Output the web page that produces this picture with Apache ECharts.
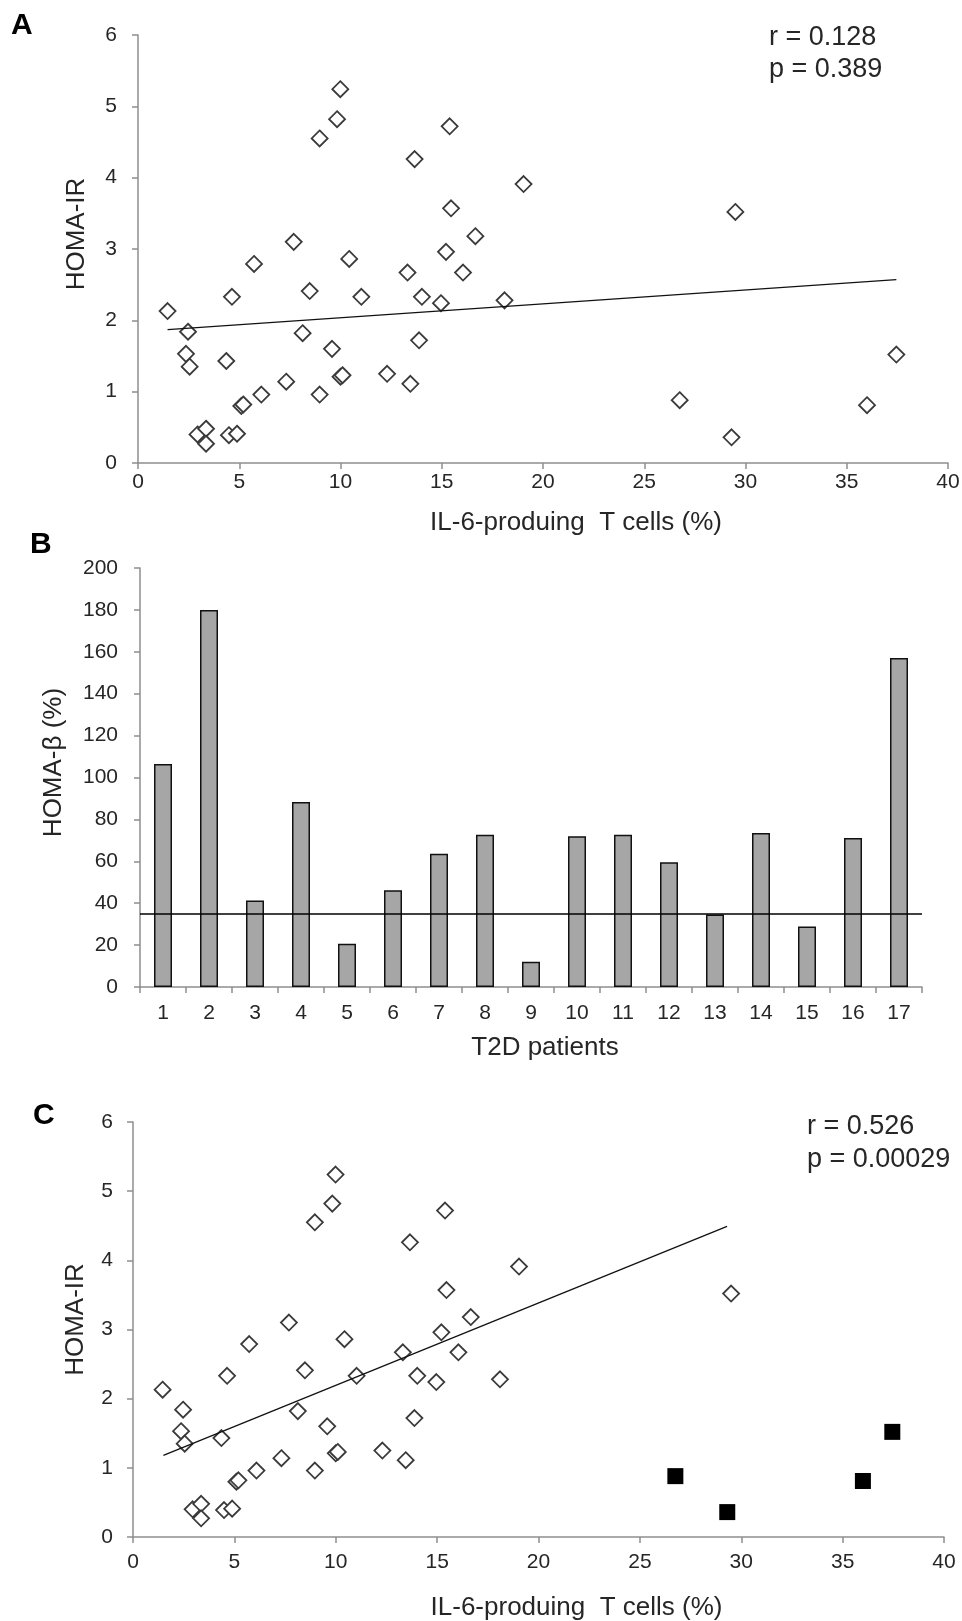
<!DOCTYPE html>
<html>
<head>
<meta charset="utf-8">
<title>HOMA-IR / HOMA-β vs IL-6-producing T cells</title>
<script src="https://cdn.jsdelivr.net/npm/echarts@6/dist/echarts.min.js"></script>
<style>
	html, body { margin: 0; padding: 0; background: #fff; }
	#chart { width: 962px; height: 1621px; }
</style>
</head>
<body>
<div id="chart"></div>
<script>
// patients kept in the correlation of panel C: [IL-6+ T cells %, HOMA-IR]
const il6Included = [
	[1.46, 2.13], [2.47, 1.84], [2.37, 1.53], [2.55, 1.35], [2.94, 0.40],
	[3.36, 0.48], [3.36, 0.27], [4.49, 0.39], [4.89, 0.41], [4.36, 1.43],
	[4.64, 2.33], [5.10, 0.80], [5.20, 0.82], [6.09, 0.96], [5.73, 2.79],
	[7.32, 1.14], [7.69, 3.10], [8.13, 1.82], [8.48, 2.41], [8.97, 0.96],
	[8.97, 4.55], [9.58, 1.60], [9.83, 4.82], [9.99, 5.24], [10.00, 1.21],
	[10.10, 1.23], [10.43, 2.86], [11.03, 2.33], [12.30, 1.25], [13.31, 2.67],
	[13.45, 1.11], [13.66, 4.26], [14.02, 2.33], [13.88, 1.72], [14.96, 2.24],
	[15.21, 2.96], [15.39, 4.72], [15.46, 3.57], [16.05, 2.67], [16.66, 3.18],
	[19.04, 3.91], [18.10, 2.28], [29.50, 3.52]
];
// patients shown as filled squares in panel C
const il6Excluded = [[26.75, 0.88], [29.31, 0.36], [36.00, 0.81], [37.45, 1.52]];

// trend line end points
const trendA = [[1.46, 1.87], [37.45, 2.57]];
const trendC = [[1.50, 1.18], [29.30, 4.49]];

// panel B
const patients = ['1', '2', '3', '4', '5', '6', '7', '8', '9', '10', '11', '12', '13', '14', '15', '16', '17'];
const homaBeta = [106.5, 180, 41.3, 88.3, 20.6, 46.2, 63.6, 72.7, 12.1, 72, 72.7, 59.6, 34.6, 73.5, 28.9, 71.1, 157];
const betaCutoff = 35;

const statsA = ['r = 0.128', 'p = 0.389'];
const statsC = ['r = 0.526', 'p = 0.00029'];

const font = '"Liberation Sans", Arial, sans-serif';
const textColor = '#262626';
const axisGray = '#8e8e8e';

const tickLabel = (margin) => ({ color: textColor, fontSize: 21, fontFamily: font, margin: margin });
const axisName = (padding) => ({ color: textColor, fontSize: 26, fontFamily: font, padding: padding });
const line = { show: true, lineStyle: { color: axisGray, width: 1.5 } };
const tick = { show: true, length: 6, lineStyle: { color: axisGray, width: 1.5 } };

const valueX = (gridIndex, margin, nameGap, padding) => ({
	type: 'value',
	gridIndex: gridIndex,
	min: 0,
	max: 40,
	interval: 5,
	name: 'IL-6-produing  T cells (%)',
	nameLocation: 'middle',
	nameGap: nameGap,
	nameTextStyle: axisName(padding),
	axisLine: line,
	axisTick: tick,
	axisLabel: tickLabel(margin),
	splitLine: { show: false }
});

const homaY = (gridIndex, margin, nameGap, padding) => ({
	type: 'value',
	gridIndex: gridIndex,
	min: 0,
	max: 6,
	interval: 1,
	name: 'HOMA-IR',
	nameLocation: 'middle',
	nameGap: nameGap,
	nameTextStyle: axisName(padding),
	axisLine: line,
	axisTick: tick,
	axisLabel: tickLabel(margin),
	splitLine: { show: false }
});

const diamond = {
	color: '#fff',
	borderColor: '#3a3a3a',
	borderWidth: 1.8,
	opacity: 1
};

const statText = (lines, x, y) => lines.map((t, i) => ({
	type: 'text',
	x: x,
	y: y + i * 32.5,
	style: { text: t, fill: textColor, font: '27px ' + font, verticalAlign: 'middle' }
}));

const panelLetter = (t, x, y) => ({
	type: 'text',
	x: x,
	y: y,
	style: { text: t, fill: '#000', font: 'bold 30px ' + font, verticalAlign: 'middle' }
});

const chart = echarts.init(document.getElementById('chart'), null, { renderer: 'canvas' });

chart.setOption({
	animation: false,
	backgroundColor: '#fff',
	// fixed plot boxes, no automatic shrinking for labels
	grid: [
		{ left: 138, top: 35, width: 810, height: 428, outerBoundsMode: 'none' },
		{ left: 140, top: 568, width: 782, height: 419, outerBoundsMode: 'none' },
		{ left: 133, top: 1122, width: 811, height: 415, outerBoundsMode: 'none' }
	],
	xAxis: [
		valueX(0, 9, 47, [0, 0, 0, 66]),
		{
			type: 'category',
			gridIndex: 1,
			data: patients,
			name: 'T2D patients',
			nameLocation: 'middle',
			nameGap: 48,
			nameTextStyle: axisName([0, 0, 0, 28]),
			axisLine: line,
			axisTick: tick,
			axisLabel: tickLabel(16)
		},
		valueX(2, 15, 58, [0, 0, 0, 76])
	],
	yAxis: [
		homaY(0, 21, 48, [0, 0, 0, 30]),
		{
			type: 'value',
			gridIndex: 1,
			min: 0,
			max: 200,
			interval: 20,
			name: 'HOMA-β (%)',
			nameLocation: 'middle',
			nameGap: 73,
			nameTextStyle: axisName([0, 0, 0, 30]),
			axisLine: line,
			axisTick: tick,
			axisLabel: tickLabel(22),
			splitLine: { show: false }
		},
		homaY(2, 20, 44, [0, 0, 0, 20])
	],
	series: [
		{
			type: 'scatter',
			xAxisIndex: 0,
			yAxisIndex: 0,
			symbol: 'diamond',
			symbolSize: 16,
			itemStyle: diamond,
			data: il6Included.concat(il6Excluded)
		},
		{
			type: 'line',
			xAxisIndex: 0,
			yAxisIndex: 0,
			showSymbol: false,
			lineStyle: { color: '#111', width: 1.3 },
			data: trendA
		},
		{
			type: 'bar',
			xAxisIndex: 1,
			yAxisIndex: 1,
			barWidth: 18,
			itemStyle: { color: '#a6a6a6', borderColor: '#111', borderWidth: 1.5 },
			data: homaBeta,
			markLine: {
				silent: true,
				symbol: 'none',
				label: { show: false },
				lineStyle: { color: '#000', width: 1.5, type: 'solid' },
				data: [{ yAxis: betaCutoff }]
			}
		},
		{
			type: 'scatter',
			xAxisIndex: 2,
			yAxisIndex: 2,
			symbol: 'diamond',
			symbolSize: 16,
			itemStyle: diamond,
			data: il6Included
		},
		{
			type: 'scatter',
			xAxisIndex: 2,
			yAxisIndex: 2,
			symbol: 'rect',
			symbolSize: 16,
			itemStyle: { color: '#000', opacity: 1 },
			data: il6Excluded
		},
		{
			type: 'line',
			xAxisIndex: 2,
			yAxisIndex: 2,
			showSymbol: false,
			lineStyle: { color: '#111', width: 1.3 },
			data: trendC
		}
	],
	graphic: [
		panelLetter('A', 11, 25.5),
		panelLetter('B', 30, 544.5),
		panelLetter('C', 33, 1115.5),
		...statText(statsA, 769, 37.3),
		...statText(statsC, 807, 1126.6)
	]
});
</script>
</body>
</html>
